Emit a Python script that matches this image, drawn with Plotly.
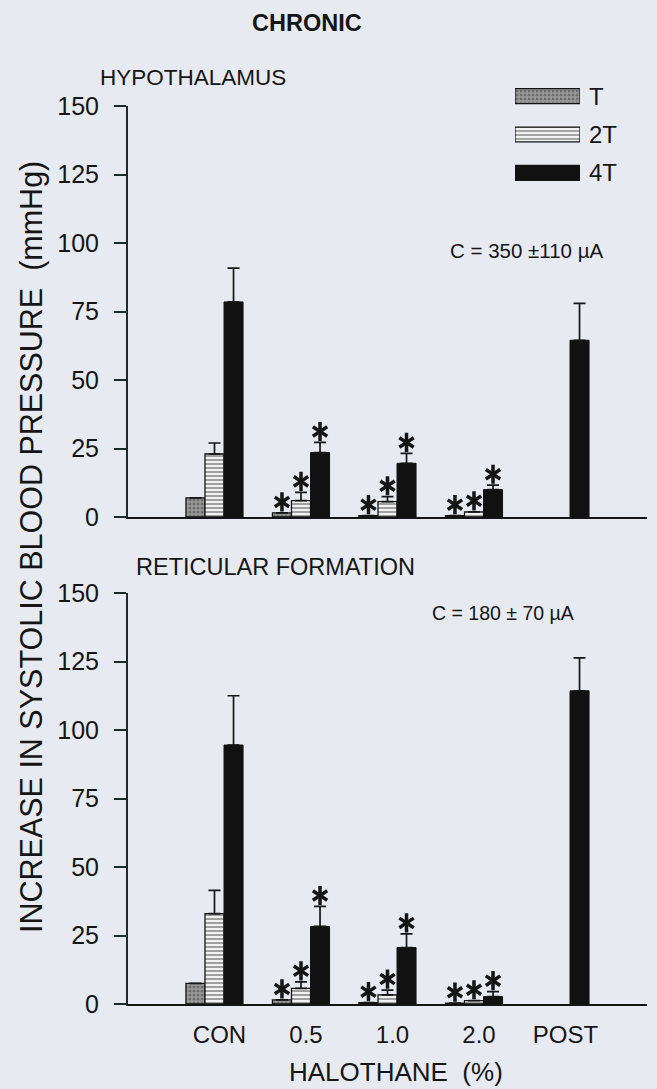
import plotly.graph_objects as go

# ---------------- data ----------------
categories = ["CON", "0.5", "1.0", "2.0", "POST"]
series = ["T", "2T", "4T"]

# HYPOTHALAMUS (C = 350 ± 110 µA)
hyp_T = [7.0, 1.5, 0.5, 0.5, None]
hyp_T_err = [0.0, 0.0, 0.0, 0.0, None]
hyp_2T = [23.0, 6.0, 5.6, 1.9, None]
hyp_2T_err = [4.0, 3.0, 1.8, 0.0, None]
hyp_4T = [78.5, 23.5, 19.6, 10.0, 64.5]
hyp_4T_err = [12.3, 3.7, 3.6, 1.6, 13.5]
hyp_sig_T = [0, 1, 1, 1, 0]
hyp_sig_2T = [0, 1, 1, 1, 0]
hyp_sig_4T = [0, 1, 1, 1, 0]

# RETICULAR FORMATION (C = 180 ± 70 µA)
ret_T = [7.5, 1.5, 0.5, 0.3, None]
ret_T_err = [0.0, 0.0, 0.0, 0.0, None]
ret_2T = [33.0, 5.7, 3.3, 1.2, None]
ret_2T_err = [8.5, 2.4, 1.8, 0.0, None]
ret_4T = [94.5, 28.3, 20.6, 2.7, 114.3]
ret_4T_err = [18.0, 7.3, 5.0, 1.8, 12.0]
ret_sig_T = [0, 1, 1, 1, 0]
ret_sig_2T = [0, 1, 1, 1, 0]
ret_sig_4T = [0, 1, 1, 1, 0]

y_ticks = [0, 25, 50, 75, 100, 125, 150]
legend_labels = ["T", "2T", "4T"]
legend_len = [1, 1, 1]

# ---------------- style ----------------
FONT = "Liberation Sans, Arial, Helvetica, sans-serif"
INK = "#151515"
AXC = "#1d2b2b"
BG = "#e7eaf0"
W, H = 657, 1089
ML, MR = 128, 10
PW = W - ML - MR
BARGAP = 0.34
SLOT = (1 - BARGAP) / 3
STAR_OFF = 4.0

styles = {
    "T": dict(color="#8f8f8f", line=dict(color=INK, width=1.3),
              pattern=dict(shape=".", fgcolor="#3d3d3d", bgcolor="#9b9b9b", size=4, solidity=0.45)),
    "2T": dict(color="#f2f2f2", line=dict(color=INK, width=1.3),
               pattern=dict(shape="-", fgcolor="#222222", bgcolor="#f2f2f2", size=4, solidity=0.4)),
    "4T": dict(color="#111111", line=dict(color="#111111", width=1)),
}


def px_x(px):
    return (px - ML) / PW


def px_y(py):
    return 1 - py / H


panels = [
    ("x", "y", [hyp_T, hyp_2T, hyp_4T], [hyp_T_err, hyp_2T_err, hyp_4T_err],
     [hyp_sig_T, hyp_sig_2T, hyp_sig_4T]),
    ("x2", "y2", [ret_T, ret_2T, ret_4T], [ret_T_err, ret_2T_err, ret_4T_err],
     [ret_sig_T, ret_sig_2T, ret_sig_4T]),
]

fig = go.Figure()
xpos = list(range(len(categories)))

for xa, ya, vals, errs, sigs in panels:
    sx, sy = [], []
    for j, s in enumerate(series):
        fig.add_trace(go.Bar(
            x=xpos, y=vals[j], name=s, xaxis=xa, yaxis=ya,
            marker=styles[s], showlegend=False,
            error_y=dict(type="data", symmetric=False, array=errs[j],
                         arrayminus=[0 if v is not None else None for v in errs[j]],
                         color=INK, thickness=1.7, width=6),
        ))
        for i in xpos:
            if sigs[j][i] and vals[j][i] is not None:
                sx.append(i + (j - 1) * SLOT)
                sy.append(vals[j][i] + (errs[j][i] or 0) + STAR_OFF)
    for sym in ("y-up-open", "y-down-open"):
        fig.add_trace(go.Scatter(
            x=sx, y=sy, mode="markers", xaxis=xa, yaxis=ya, showlegend=False,
            marker=dict(symbol=sym, size=12, color=INK, line=dict(color=INK, width=3.5)),
            hoverinfo="skip"))

# legend drawn as a small bar panel
fig.add_trace(go.Bar(
    y=legend_labels, x=legend_len, orientation="h", xaxis="x3", yaxis="y3",
    width=0.39, showlegend=False, hoverinfo="skip",
    marker=dict(
        color=["#9b9b9b", "#f2f2f2", "#111111"],
        line=dict(color=INK, width=1.3),
        pattern=dict(shape=[".", "-", ""], fgcolor=["#3d3d3d", "#222222", "#111111"],
                     bgcolor=["#9b9b9b", "#f2f2f2", "#111111"], size=4, solidity=0.45),
    ),
))

axis_y = dict(range=[0, 150], tickvals=y_ticks, showgrid=False, zeroline=False,
              showline=True, linewidth=2, linecolor=AXC, ticks="outside",
              ticklen=12, tickwidth=2, tickcolor=AXC, ticklabelstandoff=10,
              automargin=False,
              tickfont=dict(family=FONT, size=25, color=INK))
axis_x = dict(range=[-1, 5], showgrid=False, zeroline=False, showline=True,
              linewidth=2, linecolor=INK, ticks="", tickvals=xpos, ticktext=categories,
              automargin=False)

fig.update_layout(
    width=W, height=H, margin=dict(l=ML, r=MR, t=0, b=0, autoexpand=False),
    paper_bgcolor=BG, plot_bgcolor=BG,
    barmode="group", bargap=BARGAP, bargroupgap=0,
    font=dict(family=FONT, color=INK),
    xaxis=dict(axis_x, anchor="y", showticklabels=False),
    yaxis=dict(axis_y, anchor="x", domain=[px_y(517), px_y(106)]),
    xaxis2=dict(axis_x, anchor="y2", showticklabels=True, ticklabelshift=5,
                ticklabelstandoff=8, tickfont=dict(family=FONT, size=24, color=INK)),
    yaxis2=dict(axis_y, anchor="x2", domain=[px_y(1004), px_y(593)]),
    xaxis3=dict(domain=[px_x(515), px_x(580)], range=[0, 1], anchor="y3",
                visible=False, fixedrange=True, automargin=False),
    yaxis3=dict(domain=[px_y(192), px_y(77)], anchor="x3", side="right",
                autorange="reversed", showline=False, showgrid=False, zeroline=False,
                ticks="", ticklabelstandoff=8, automargin=False,
                tickfont=dict(family=FONT, size=24, color=INK)),
)

ann = [
    dict(text="<b>CHRONIC</b>", x=px_x(307), y=px_y(23), xanchor="center", yanchor="middle",
         font=dict(size=23.5)),
    dict(text="HYPOTHALAMUS", x=px_x(98), y=px_y(77), xanchor="left", yanchor="middle",
         font=dict(size=22.5)),
    dict(text="RETICULAR FORMATION", x=px_x(134), y=px_y(567), xanchor="left", yanchor="middle",
         font=dict(size=23.5)),
    dict(text="C = 350 ±110 µA", x=px_x(606), y=px_y(251), xanchor="right", yanchor="middle",
         font=dict(size=20.5)),
    dict(text="C = 180 ± 70 µA", x=px_x(576), y=px_y(613), xanchor="right", yanchor="middle",
         font=dict(size=19.5)),
    dict(text="HALOTHANE  (%)", x=px_x(396), y=px_y(1072), xanchor="center", yanchor="middle",
         font=dict(size=26)),
    dict(text="INCREASE IN SYSTOLIC BLOOD PRESSURE  (mmHg)", x=px_x(31), y=px_y(547),
         xanchor="center", yanchor="middle", textangle=-90, font=dict(size=30.5)),
]
for a in ann:
    a.update(xref="paper", yref="paper", showarrow=False)
    a["font"] = dict(family=FONT, color=INK, **a["font"])
fig.update_layout(annotations=ann)

fig.write_html(
    "out.html",
    config={"displayModeBar": False},
    post_script="document.body.style.margin='0';document.body.style.background='%s';" % BG,
)
